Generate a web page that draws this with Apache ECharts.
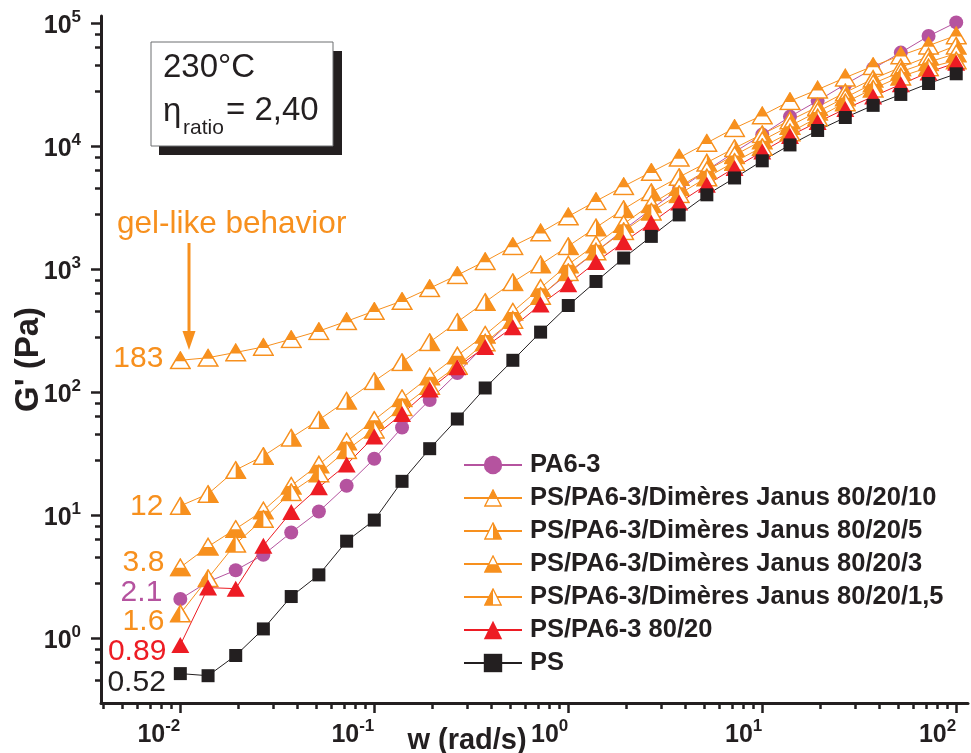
<!DOCTYPE html>
<html><head><meta charset="utf-8">
<script src="https://cdn.jsdelivr.net/npm/echarts@6/dist/echarts.min.js"></script>
<style>html,body{margin:0;padding:0;background:#fff}#c{width:971px;height:753px}</style>
</head><body><div id="c"></div>
<script>
// ---- data ----
const freq = [0.01, 0.0139, 0.0193, 0.0268, 0.0373, 0.0518, 0.072, 0.1, 0.139, 0.193, 0.268, 0.373, 0.518, 0.72, 1, 1.39, 1.93, 2.68, 3.73, 5.18, 7.2, 10, 13.9, 19.3, 26.8, 37.3, 51.8, 72, 100];
const gPA63 = [2.1, 2.9, 3.6, 4.8, 7.3, 10.8, 17.5, 29, 52, 87, 144, 245, 390, 610, 930, 1400, 2100, 3100, 4500, 6400, 9000, 12500, 17500, 23500, 32000, 43000, 58000, 79000, 102000];
const gJ10 = [183, 192, 212, 235, 272, 316, 380, 460, 555, 705, 900, 1170, 1550, 2000, 2700, 3600, 4750, 6200, 8100, 10700, 14100, 17900, 23400, 29000, 36300, 45000, 55000, 66000, 80000];
const gJ5 = [12, 15, 23.5, 30.5, 43, 60, 86, 124, 177, 257, 375, 545, 790, 1100, 1550, 2200, 3100, 4250, 5650, 7400, 9700, 12600, 16300, 21000, 27500, 35500, 44000, 54000, 66000];
const gJ3 = [3.8, 5.6, 7.8, 11, 17.5, 26, 40, 60, 90, 135, 200, 295, 455, 710, 1100, 1600, 2350, 3400, 4700, 6400, 8500, 11200, 14700, 19200, 25000, 32500, 40500, 48500, 57000];
const gJ15 = [1.6, 3.1, 5.9, 9.4, 15.5, 22, 34, 50, 76, 113, 165, 255, 390, 610, 950, 1400, 2050, 2950, 4100, 5600, 7500, 9900, 13000, 17200, 22800, 29500, 37000, 44000, 50000];
const gBlend = [0.89, 2.6, 2.55, 5.7, 10.7, 17, 26, 44, 67, 106, 161, 235, 340, 520, 760, 1150, 1670, 2400, 3500, 4900, 6700, 9100, 12200, 15800, 20200, 25500, 32000, 40000, 48000];
const gPS = [0.52, 0.50, 0.73, 1.2, 2.2, 3.3, 6.2, 9.2, 19, 35, 61, 109, 183, 310, 510, 800, 1240, 1860, 2780, 4050, 5550, 7650, 10300, 13500, 17200, 21600, 26500, 32500, 39000];
const seriesNames = ['PA6-3', 'PS/PA6-3/Dimères Janus 80/20/10', 'PS/PA6-3/Dimères Janus 80/20/5', 'PS/PA6-3/Dimères Janus 80/20/3', 'PS/PA6-3/Dimères Janus 80/20/1,5', 'PS/PA6-3 80/20', 'PS'];
const xMajor = [0.01, 0.1, 1, 10, 100];
const yMajor = [1, 10, 100, 1000, 10000, 100000];

// ---- styling ----
const FONT = '"Liberation Sans", Arial, Helvetica, sans-serif';
const ORANGE = '#F7901E', PURPLE = '#B5539F', RED = '#ED1C24', BLACK = '#231F20';
const xMin = 0.0039, xMax = 115, yMin = 0.3, yMax = 115000;

const xMinor = [];
for (let k = -3; k <= 2; k++) for (let m = 2; m <= 9; m++) { const v = m * Math.pow(10, k); if (v > xMin && v < xMax) xMinor.push(+v.toPrecision(3)); }
const yMinor = [];
for (let k = -1; k <= 5; k++) for (const m of [2.8, 4.6, 6.4, 8.2]) { const v = m * Math.pow(10, k); if (v > yMin && v < yMax) yMinor.push(+v.toPrecision(3)); }

function triSvg(fillPts) {
  const svg = '<svg xmlns="http://www.w3.org/2000/svg" width="44" height="38" viewBox="0 0 22 19">' +
    '<polygon points="11,1.2 20.8,17.8 1.2,17.8" fill="#ffffff" stroke="' + ORANGE + '" stroke-width="1.5"/>' +
    '<polygon points="' + fillPts + '" fill="' + ORANGE + '"/></svg>';
  return 'image://data:image/svg+xml;charset=utf-8,' + encodeURIComponent(svg);
}
const symTop = triSvg('11,1.2 16.6,10.5 5.4,10.5 ');
const symRight = triSvg('11,1.2 20.8,17.8 11,17.8');
const symBottom = triSvg('6.1,9.8 15.9,9.8 20.8,17.8 1.2,17.8');
const symLeft = triSvg('11,1.2 11,17.8 1.2,17.8');

function pts(ys, lab) {
  return freq.map((x, i) => {
    if (i === 0 && lab) return { value: [x, ys[i]], label: lab };
    return [x, ys[i]];
  });
}
function lab(color, distance, dy) {
  return { show: true, position: 'left', distance: distance, offset: [0, dy], color: color,
    fontSize: 30, fontFamily: FONT, formatter: p => String(p.value[1]) };
}
function mk(name, ys, color, symbol, size, l) {
  return { name: name, type: 'line', data: pts(ys, l), xAxisIndex: 0, yAxisIndex: 0,
    symbol: symbol, symbolSize: size, showSymbol: true,
    lineStyle: { color: color, width: 1 }, itemStyle: { color: color, opacity: 1 },
    emphasis: { disabled: true }, z: 2 };
}

function powLabel(v) { const e = Math.round(Math.log10(v)); return '{b|10}{s|' + e + '}'; }
const rich = {
  b: { fontSize: 25, fontWeight: 'bold', fontFamily: FONT, color: BLACK, verticalAlign: 'bottom', lineHeight: 30 },
  s: { fontSize: 17, fontWeight: 'bold', fontFamily: FONT, color: BLACK, verticalAlign: 'top', lineHeight: 30 }
};

const chart = echarts.init(document.getElementById('c'), null, { renderer: 'canvas' });
chart.setOption({
  animation: false,
  backgroundColor: '#ffffff',
  grid: { left: 101, right: 3, top: 16, bottom: 50, containLabel: false, outerBoundsMode: 'none' },
  legend: {
    orient: 'vertical', left: 463, top: 452, itemWidth: 58, itemHeight: 23, itemGap: 7,
    padding: 0, data: seriesNames, selectedMode: false,
    textStyle: { fontSize: 25.5, fontWeight: 'bold', fontFamily: FONT, color: BLACK, lineHeight: 23, padding: [0, 0, 0, 3] }
  },
  xAxis: [
    { type: 'log', logBase: 10, min: xMin, max: xMax, position: 'bottom',
      axisLine: { show: true, lineStyle: { color: BLACK, width: 3 } },
      axisTick: { show: true, inside: false, length: 10, lineStyle: { color: BLACK, width: 2.5 }, customValues: xMajor },
      axisLabel: { show: true, margin: 15, align: 'right', customValues: xMajor, formatter: powLabel, rich: rich },
      splitLine: { show: false } },
    { type: 'log', logBase: 10, min: xMin, max: xMax, position: 'bottom',
      axisLine: { show: false },
      axisTick: { show: true, inside: false, length: 6, lineStyle: { color: BLACK, width: 2.5 }, customValues: xMinor },
      axisLabel: { show: false }, splitLine: { show: false } }
  ],
  yAxis: [
    { type: 'log', logBase: 10, min: yMin, max: yMax, position: 'left',
      name: "G' (Pa)", nameLocation: 'middle', nameGap: 56, nameRotate: 90, nameMoveOverlap: false,
      nameTextStyle: { fontSize: 33, fontWeight: 'bold', fontFamily: FONT, color: BLACK },
      axisLine: { show: true, lineStyle: { color: BLACK, width: 3 } },
      axisTick: { show: true, inside: false, length: 10, lineStyle: { color: BLACK, width: 2.5 }, customValues: yMajor },
      axisLabel: { show: true, margin: 20, customValues: yMajor, formatter: powLabel, rich: rich },
      splitLine: { show: false } },
    { type: 'log', logBase: 10, min: yMin, max: yMax, position: 'left',
      axisLine: { show: false },
      axisTick: { show: true, inside: false, length: 6, lineStyle: { color: BLACK, width: 2.5 }, customValues: yMinor },
      axisLabel: { show: false }, splitLine: { show: false } }
  ],
  series: [
    mk(seriesNames[0], gPA63, PURPLE, 'circle', 14, lab(PURPLE, 11, -6)),
    mk(seriesNames[1], gJ10, ORANGE, symTop, [22, 19], lab(ORANGE, 6, -2)),
    mk(seriesNames[2], gJ5, ORANGE, symRight, [22, 19], lab(ORANGE, 6, 1)),
    mk(seriesNames[3], gJ3, ORANGE, symBottom, [22, 19], lab(ORANGE, 5, -5)),
    mk(seriesNames[4], gJ15, ORANGE, symLeft, [22, 19], lab(ORANGE, 5, 8)),
    mk(seriesNames[5], gBlend, RED, 'triangle', [18, 16], lab(RED, 5, 7)),
    mk(seriesNames[6], gPS, BLACK, 'rect', 13, lab(BLACK, 8, 9))
  ],
  graphic: [
    { type: 'rect', shape: { x: 159, y: 51, width: 183, height: 104 }, style: { fill: BLACK }, z: 10 },
    { type: 'rect', shape: { x: 151, y: 42, width: 182, height: 104 }, style: { fill: '#ffffff', stroke: '#6d6e71', lineWidth: 1 }, z: 11 },
    { type: 'text', x: 163, y: 68, z: 12, style: { text: '230°C', fontSize: 33, fontFamily: FONT, fill: BLACK, verticalAlign: 'middle' } },
    { type: 'text', x: 163, y: 112, z: 12, style: { text: 'η', fontSize: 33, fontFamily: FONT, fill: BLACK, verticalAlign: 'middle' } },
    { type: 'text', x: 183, y: 128, z: 12, style: { text: 'ratio', fontSize: 21, fontFamily: FONT, fill: BLACK, verticalAlign: 'middle' } },
    { type: 'text', x: 226, y: 111, z: 12, style: { text: '= 2,40', fontSize: 33, fontFamily: FONT, fill: BLACK, verticalAlign: 'middle' } },
    { type: 'text', x: 117, y: 224, z: 12, style: { text: 'gel-like behavior', fontSize: 31.5, fontFamily: FONT, fill: ORANGE, verticalAlign: 'middle' } },
    { type: 'line', shape: { x1: 189, y1: 243, x2: 189, y2: 334 }, style: { stroke: ORANGE, lineWidth: 3 }, z: 12 },
    { type: 'polygon', shape: { points: [[182.5, 331], [195.5, 331], [189, 350]] }, style: { fill: ORANGE }, z: 12 },
    { type: 'text', x: 467, y: 741, z: 12, style: { text: 'w (rad/s)', fontSize: 29, fontWeight: 'bold', fontFamily: FONT, fill: BLACK, align: 'center', verticalAlign: 'middle' } }
  ]
});
</script></body></html>
